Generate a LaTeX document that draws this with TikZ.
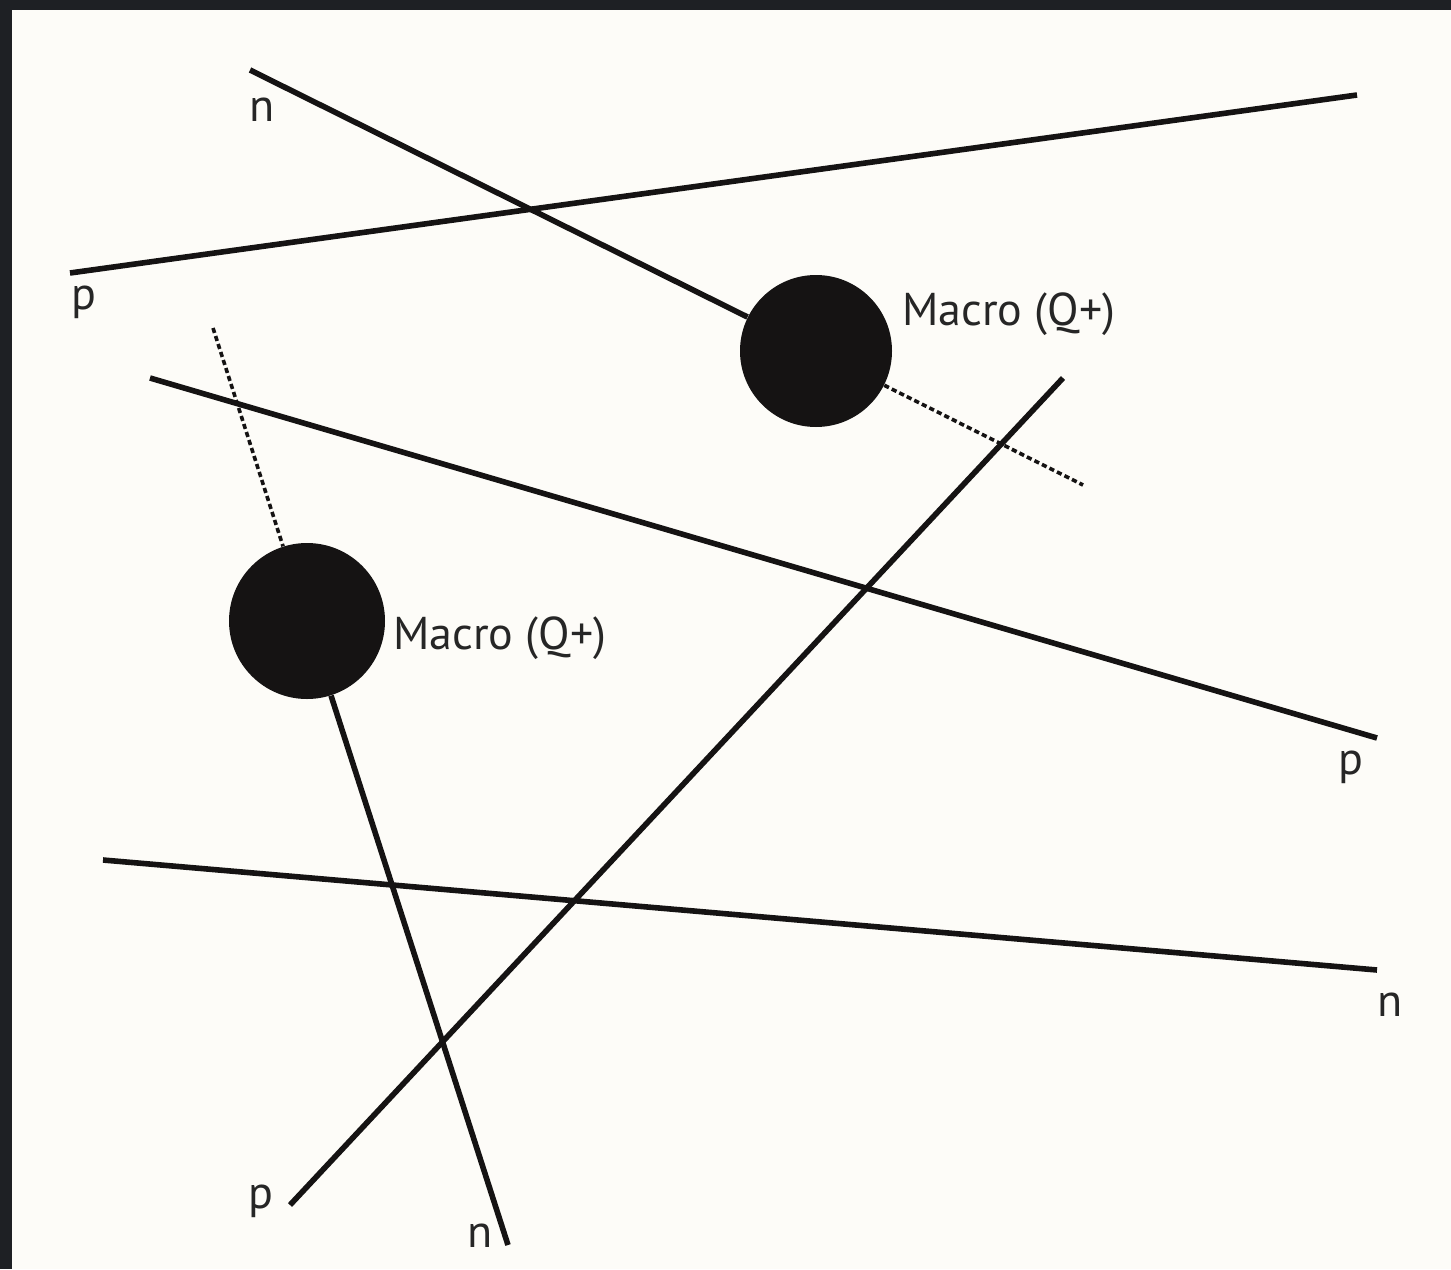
\documentclass[tikz,border=0pt]{standalone}
\usepackage{fontspec}
\setmainfont{PT Sans}
\definecolor{paper}{HTML}{FDFCF8}
\definecolor{frame}{HTML}{1E2024}
\definecolor{ink}{HTML}{151313}
\definecolor{txt}{HTML}{262626}
\begin{document}
\begin{tikzpicture}[x=0.5pt,y=-0.5pt,
  solidline/.style={draw=ink,line width=2.8pt,line cap=butt},
  dashline/.style={draw=ink,line width=1.8pt,dash pattern=on 2.6pt off 1.6pt},
  ball/.style={circle,fill=ink,draw=none,inner sep=0pt,minimum size=#1},
  lbl/.style={text=txt,font=\fontsize{23}{26}\selectfont,inner sep=0pt,anchor=base},
  macro/.style={text=txt,font=\fontsize{23}{26}\selectfont,inner sep=0pt,anchor=west}]
\useasboundingbox (0,0) rectangle (1451,1269);
\fill[paper] (0,0) rectangle (1451,1269);
\fill[frame] (0,0) rectangle (1451,10);
\fill[frame] (0,0) rectangle (12,1269);

% balls
\node[ball=76pt] (m1) at (816,351) {};
\node[ball=78pt] (m2) at (307,621) {};

% end points
\coordinate (a1) at (250,70);
\coordinate (a2) at (1083,485);
\coordinate (b1) at (70,273);
\coordinate (b2) at (1357,95);
\coordinate (c1) at (213,328);
\coordinate (c2) at (508,1245);
\coordinate (d1) at (150,378);
\coordinate (d2) at (1377,738);
\coordinate (e1) at (1063,378);
\coordinate (e2) at (290,1205);
\coordinate (f1) at (103,860);
\coordinate (f2) at (1377,970);

% lines
\draw[solidline] (a1) -- (m1);
\draw[dashline] (m1) -- (a2);
\draw[solidline] (b1) -- (b2);
\draw[dashline] (c1) -- (m2);
\draw[solidline] (m2) -- (c2);
\draw[solidline] (d1) -- (d2);
\draw[solidline] (e1) -- (e2);
\draw[solidline] (f1) -- (f2);

% labels
\node[lbl] (la) at (262,121) {n};
\node[lbl] (lb) at (84,309) {p};
\node[lbl] (lc) at (480,1247) {n};
\node[lbl] (ld) at (1351,774) {p};
\node[lbl] (le) at (261,1208) {p};
\node[lbl] (lf) at (1390,1016) {n};
\node[macro] (t1) at (902,314) {Macro (Q+)};
\node[macro] (t2) at (393,638) {Macro (Q+)};
\end{tikzpicture}
\end{document}
